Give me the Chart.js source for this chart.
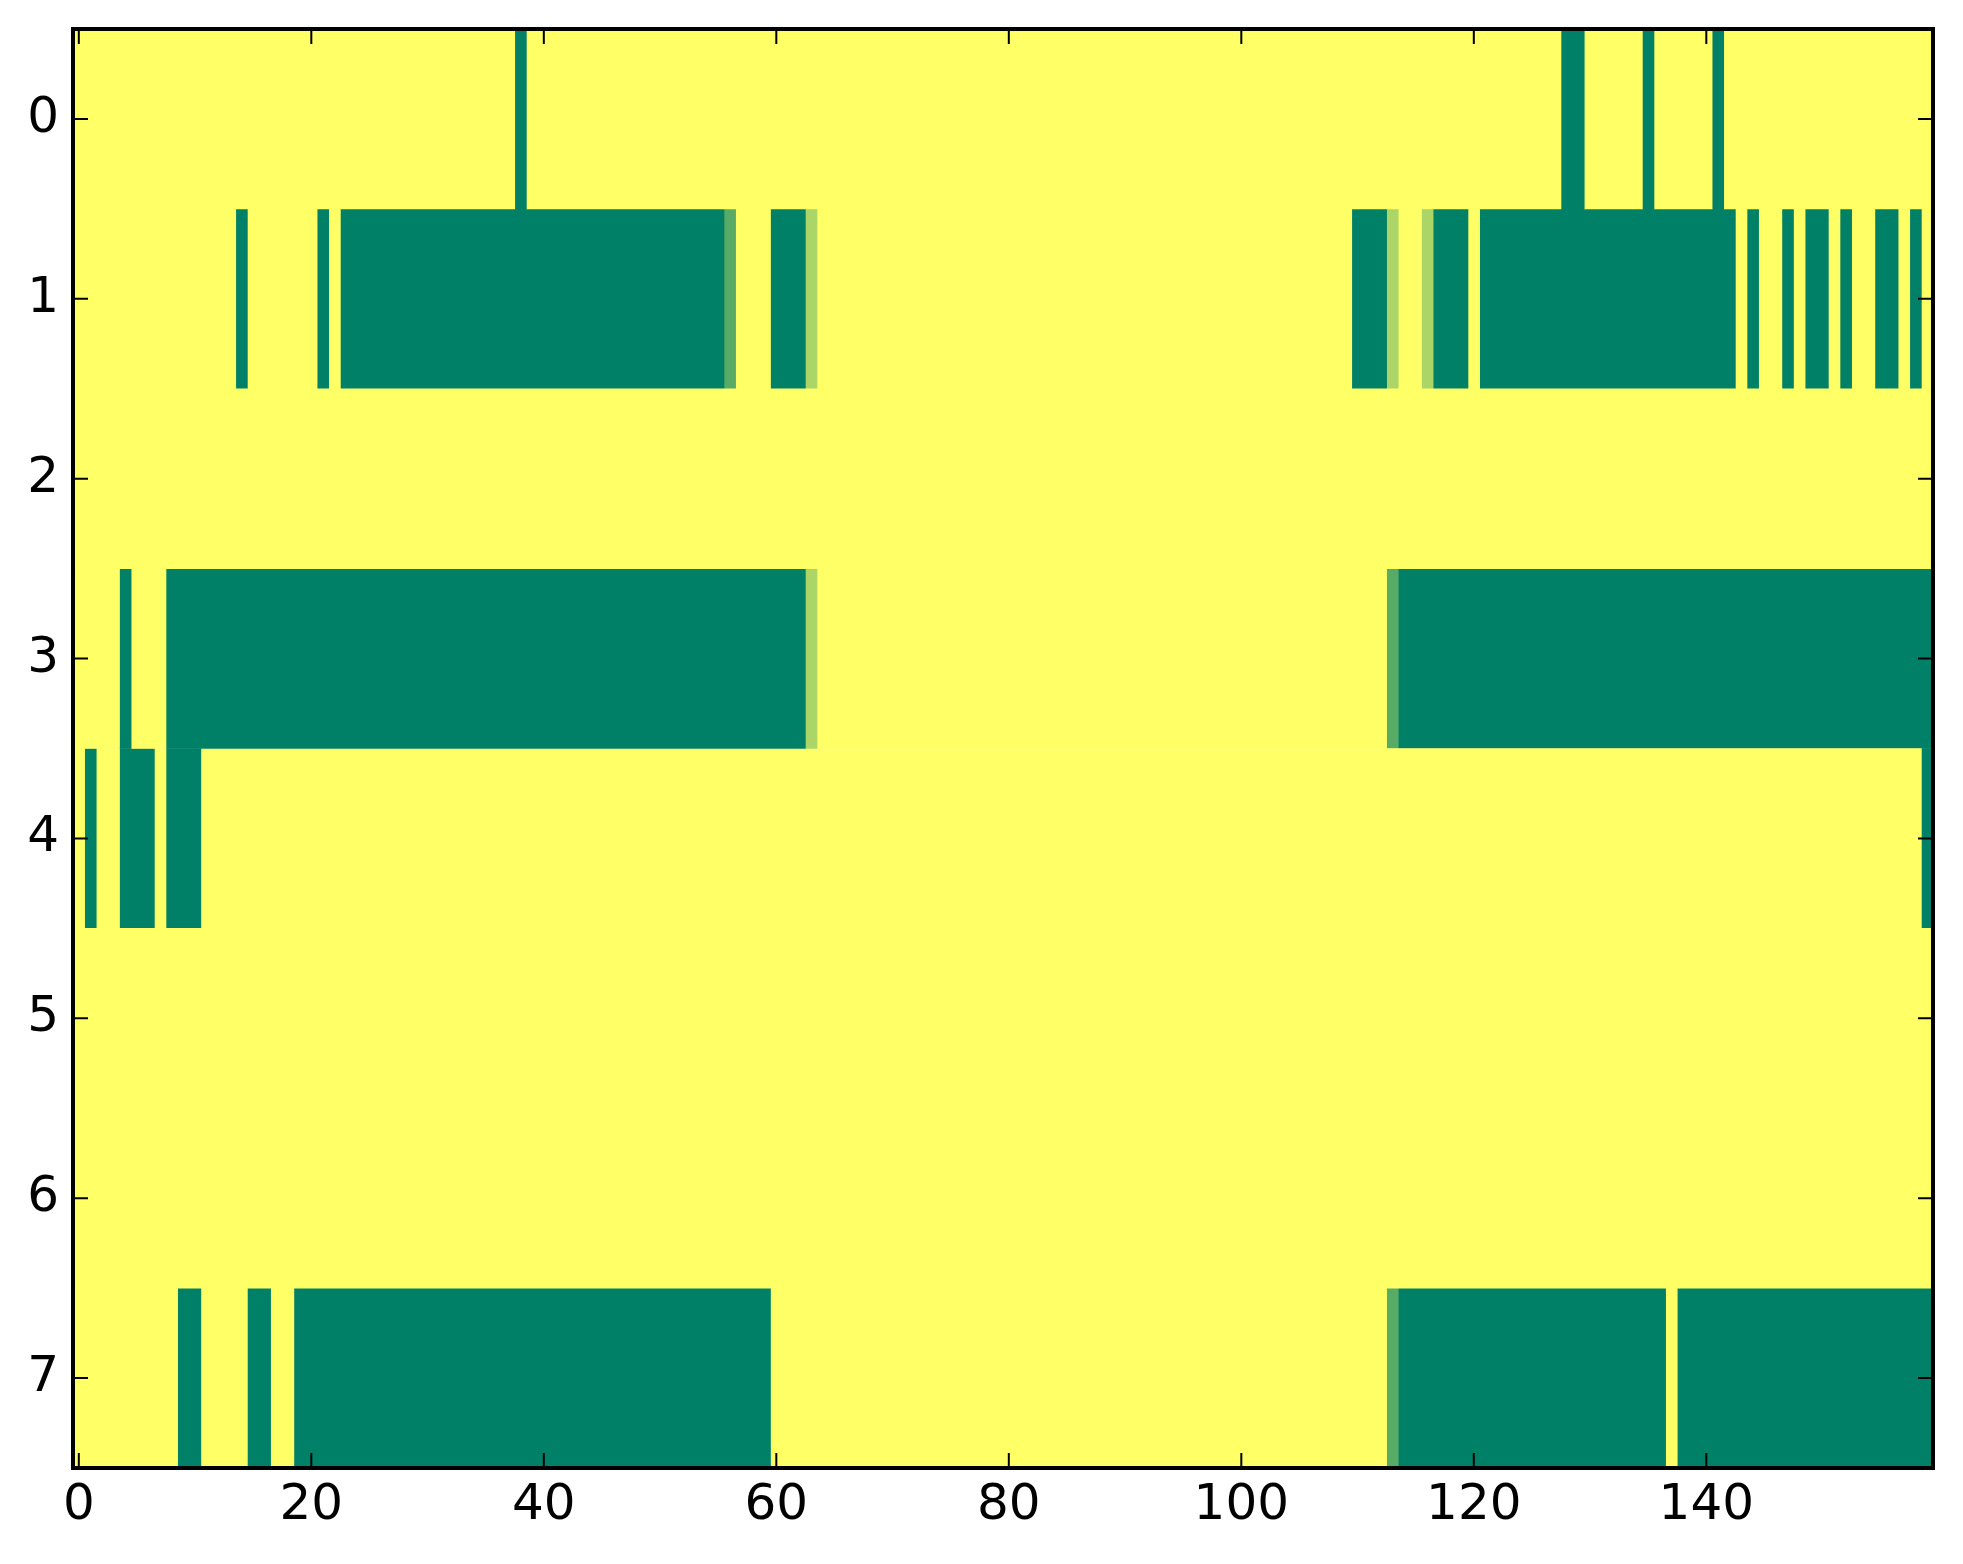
<!DOCTYPE html>
<html>
<head>
    <title>Heatmap</title>
    <script src="https://cdn.jsdelivr.net/npm/chart.js@4.4.1/dist/chart.umd.min.js"></script>
    <style>
        body { margin: 0; background: #fff; }
    </style>
</head>
<body>
    <canvas id="heatmap" width="1963" height="1564"></canvas>

    <script>
        // Grid size and tick labels
        const nCols = 160;
        const rowLabels = ['0', '1', '2', '3', '4', '5', '6', '7'];
        const xTicks = [0, 20, 40, 60, 80, 100, 120, 140];

        // Cells that are not 1.0, per row: [firstCol, lastCol, value]
        const row0 = [[38, 38, 0], [128, 129, 0], [135, 135, 0], [141, 141, 0]];
        const row1 = [[14, 14, 0], [21, 21, 0], [23, 55, 0], [56, 56, 0.34], [60, 62, 0], [63, 63, 0.67],
                      [110, 112, 0], [113, 113, 0.67], [116, 116, 0.67], [117, 119, 0], [121, 142, 0],
                      [144, 144, 0], [147, 147, 0], [149, 150, 0], [152, 152, 0], [155, 156, 0], [158, 158, 0]];
        const row2 = [];
        const row3 = [[4, 4, 0], [8, 62, 0], [63, 63, 0.67], [113, 113, 0.34], [114, 159, 0]];
        const row4 = [[1, 1, 0], [4, 6, 0], [8, 10, 0], [159, 159, 0]];
        const row5 = [];
        const row6 = [];
        const row7 = [[9, 10, 0], [15, 16, 0], [19, 59, 0], [113, 113, 0.34], [114, 136, 0], [138, 159, 0]];
        const rows = [row0, row1, row2, row3, row4, row5, row6, row7];

        // 'summer' colour map
        function summer(v) {
            return `rgb(${Math.round(255 * v)}, ${Math.round(255 * (0.5 + v / 2))}, 102)`;
        }

        // Fill the full grid (default 1.0), then merge equal neighbours into runs
        const grid = rows.map(cells => {
            const line = new Array(nCols).fill(1);
            cells.forEach(([a, b, v]) => { for (let c = a; c <= b; c++) line[c] = v; });
            return line;
        });
        const runs = grid.map(line => {
            const out = [];
            let start = 0;
            for (let c = 1; c <= nCols; c++) {
                if (c === nCols || line[c] !== line[start]) {
                    out.push({ from: start, to: c - 1, v: line[start] });
                    start = c;
                }
            }
            return out;
        });
        const maxRuns = Math.max(...runs.map(r => r.length));

        const datasets = [];
        for (let k = 0; k < maxRuns; k++) {
            datasets.push({
                data: runs.map(r => r[k] ? [r[k].from - 0.5, r[k].to + 0.5] : null),
                backgroundColor: runs.map(r => r[k] ? summer(r[k].v) : 'transparent'),
                borderWidth: 0,
                grouped: false,
                categoryPercentage: 1,
                barPercentage: 1
            });
        }

        // Frame and inward tick marks on all four sides
        const framePlugin = {
            id: 'frame',
            afterDraw(chart) {
                const { ctx, chartArea: a, scales } = chart;
                ctx.save();
                ctx.strokeStyle = '#000';
                ctx.lineWidth = 2;
                ctx.beginPath();
                scales.x.ticks.forEach((t, i) => {
                    const px = scales.x.getPixelForTick(i);
                    ctx.moveTo(px, a.bottom); ctx.lineTo(px, a.bottom - 15);
                    ctx.moveTo(px, a.top); ctx.lineTo(px, a.top + 15);
                });
                scales.y.ticks.forEach((t, i) => {
                    const py = scales.y.getPixelForTick(i);
                    ctx.moveTo(a.left, py); ctx.lineTo(a.left + 15, py);
                    ctx.moveTo(a.right, py); ctx.lineTo(a.right - 15, py);
                });
                ctx.stroke();
                ctx.lineWidth = 4;
                ctx.strokeRect(a.left, a.top, a.right - a.left, a.bottom - a.top);
                ctx.restore();
            }
        };

        Chart.defaults.font.family = 'DejaVu Sans';
        Chart.defaults.font.size = 50;
        Chart.defaults.color = '#000';

        new Chart(document.getElementById('heatmap'), {
            type: 'bar',
            data: { labels: rowLabels, datasets: datasets },
            options: {
                indexAxis: 'y',
                responsive: false,
                devicePixelRatio: 1,
                animation: false,
                layout: { padding: { top: 29, right: 30, left: 0, bottom: 0 } },
                plugins: { legend: { display: false }, tooltip: { enabled: false } },
                scales: {
                    x: {
                        type: 'linear',
                        min: -0.5,
                        max: nCols - 0.5,
                        grid: { display: false, drawTicks: false },
                        border: { display: false },
                        ticks: { padding: 8, maxRotation: 0 },
                        afterBuildTicks: scale => { scale.ticks = xTicks.map(v => ({ value: v })); },
                        afterFit: scale => {
                            scale.height = 96;
                            scale.paddingLeft = 0;
                            scale.paddingRight = 0;
                        }
                    },
                    y: {
                        grid: { display: false, drawTicks: false },
                        border: { display: false },
                        ticks: { padding: 14 },
                        afterFit: scale => {
                            scale.width = 73;
                            scale.paddingTop = 0;
                            scale.paddingBottom = 0;
                        }
                    }
                }
            },
            plugins: [framePlugin]
        });
    </script>
</body>
</html>
